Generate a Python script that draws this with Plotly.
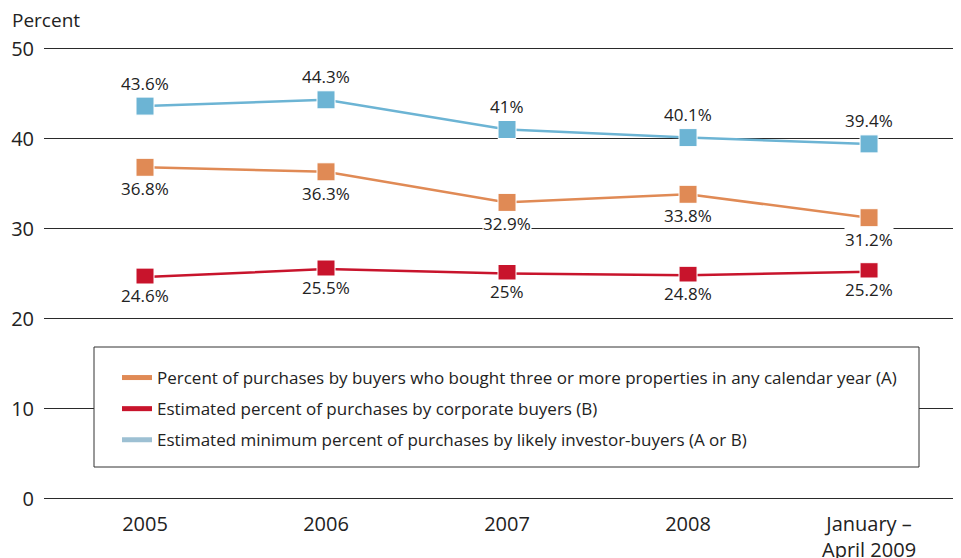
import plotly.graph_objects as go

categories = ["2005", "2006", "2007", "2008", "January –<br>April 2009"]
three_plus = [36.8, 36.3, 32.9, 33.8, 31.2]
corporate = [24.6, 25.5, 25.0, 24.8, 25.2]
investor = [43.6, 44.3, 41.0, 40.1, 39.4]
y_ticks = [0, 10, 20, 30, 40, 50]

names = [
    "Percent of purchases by buyers who bought three or more properties in any calendar year (A)",
    "Estimated percent of purchases by corporate buyers (B)",
    "Estimated minimum percent of purchases by likely investor-buyers (A or B)",
]
ORANGE = "#e08a55"
RED = "#c8142c"
BLUE = "#6cb4d4"
BLUE_LEG = "#9dc0d3"
FONT = "Open Sans"
TXT = "#222222"

xi = list(range(len(categories)))
fig = go.Figure()

series = [
    (investor, BLUE, -23),
    (three_plus, ORANGE, 21.5),
    (corporate, RED, 18),
]
for vals, col, off in series:
    fig.add_trace(go.Scatter(
        x=xi, y=vals, mode="lines+markers", showlegend=False,
        line=dict(color=col, width=2.5),
        marker=dict(symbol="square", size=18, color=col, line=dict(color="white", width=1)),
        hoverinfo="skip",
    ))
    for x, v in zip(xi, vals):
        fig.add_annotation(
            x=x, y=v, xref="x", yref="y", text=f"{v:g}%", showarrow=False,
            yshift=-off, bgcolor="white", borderpad=0,
            font=dict(family=FONT, size=17, color=TXT),
        )

for nm, col, g in zip(names, [ORANGE, RED, BLUE_LEG], ["a", "b", "c"]):
    fig.add_trace(go.Scatter(
        x=[None], y=[None], mode="lines", name=nm, legendgroup=g,
        line=dict(color=col, width=5),
    ))

# legend frame (paper coords relative to plot area: left 44, width 917, bottom 503, height 459 in screen px)
fig.add_shape(type="rect", xref="paper", yref="paper",
              x0=(94 - 44) / 917, x1=(919 - 44) / 917,
              y0=(503 - 467) / 459, y1=(503 - 347) / 459,
              line=dict(color="#333333", width=1), fillcolor="white", layer="above")

fig.update_layout(
    width=953, height=550,
    margin=dict(l=36, r=0, t=36, b=55, autoexpand=False),
    plot_bgcolor="white", paper_bgcolor="white",
    font=dict(family=FONT, color=TXT),
    title=dict(text="Percent", x=4 / 953, xanchor="left", xref="container",
               y=1 - 12 / 550, yref="container", yanchor="middle",
               font=dict(family=FONT, size=19, color=TXT)),
    legend=dict(x=(117 - 44) / 917, y=(503 - 360) / 459, xanchor="left", yanchor="top",
                bgcolor="rgba(0,0,0,0)", borderwidth=0, tracegroupgap=6,
                font=dict(family=FONT, size=17, color=TXT), itemwidth=30),
    xaxis=dict(range=[-0.558, 4.508], tickvals=xi, ticktext=categories,
               showgrid=False, zeroline=False, showline=False, ticks="", automargin=False,
               tickfont=dict(family=FONT, size=20, color=TXT), ticklabelstandoff=7),
    yaxis=dict(range=[-0.5, 50.5], tickvals=y_ticks, showgrid=True, automargin=False,
               gridcolor="#2a2a2a", gridwidth=1, zeroline=False, showline=False,
               ticks="", tickfont=dict(family=FONT, size=20, color=TXT), ticklabelstandoff=9),
)

fig.write_html("out.html")
